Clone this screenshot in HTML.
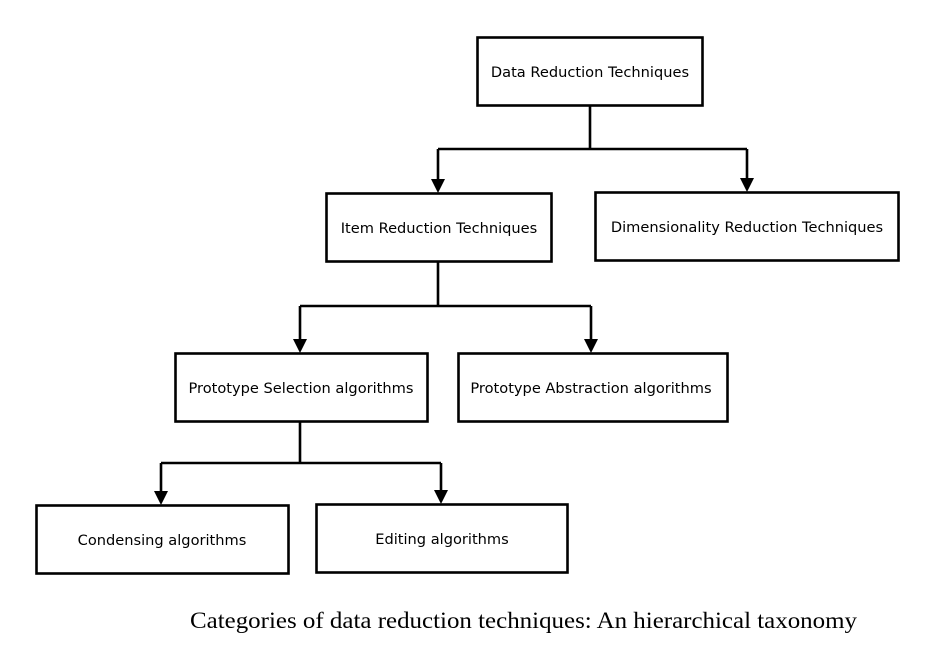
<!DOCTYPE html>
<html><head><meta charset="utf-8"><style>html,body{margin:0;padding:0;background:#fff}svg{display:block}</style></head>
<body>
<svg width="927" height="655" viewBox="0 0 927 655" xmlns="http://www.w3.org/2000/svg">
<g fill="#fff" stroke="#000" stroke-width="2.6">
<rect x="477.5" y="37.5" width="225" height="68"/>
<rect x="326.5" y="193.5" width="225" height="68"/>
<rect x="595.5" y="192.5" width="303" height="68"/>
<rect x="175.5" y="353.5" width="252" height="68"/>
<rect x="458.5" y="353.5" width="269" height="68"/>
<rect x="36.5" y="505.5" width="252" height="68"/>
<rect x="316.5" y="504.5" width="251" height="68"/>
</g>
<g fill="none" stroke="#000" stroke-width="2.6">
<path d="M590 106V149M438 149H747M438 149V180M747 149V179"/>
<path d="M438 262V306M300 306H591M300 306V340M591 306V340"/>
<path d="M300 422V463M161 463H441M161 463V492M441 463V491"/>
</g>
<g fill="#000">
<path d="M431 179H445L438 193Z"/>
<path d="M740 178H754L747 192Z"/>
<path d="M293 339H307L300 353Z"/>
<path d="M584 339H598L591 353Z"/>
<path d="M154 491H168L161 505Z"/>
<path d="M434 490H448L441 504Z"/>
</g>
<g font-family="DejaVu Sans, sans-serif" font-size="14.6" text-anchor="middle" fill="#000">
<text x="590" y="77">Data Reduction Techniques</text>
<text x="439" y="233">Item Reduction Techniques</text>
<text x="747" y="232">Dimensionality Reduction Techniques</text>
<text x="301" y="393">Prototype Selection algorithms</text>
<text x="591" y="393">Prototype Abstraction algorithms</text>
<text x="162" y="545">Condensing algorithms</text>
<text x="442" y="544">Editing algorithms</text>
</g>
<text x="190" y="628" font-family="Liberation Serif, serif" font-size="23" textLength="667" lengthAdjust="spacingAndGlyphs" fill="#000">Categories of data reduction techniques: An hierarchical taxonomy</text>
</svg>
</body></html>
